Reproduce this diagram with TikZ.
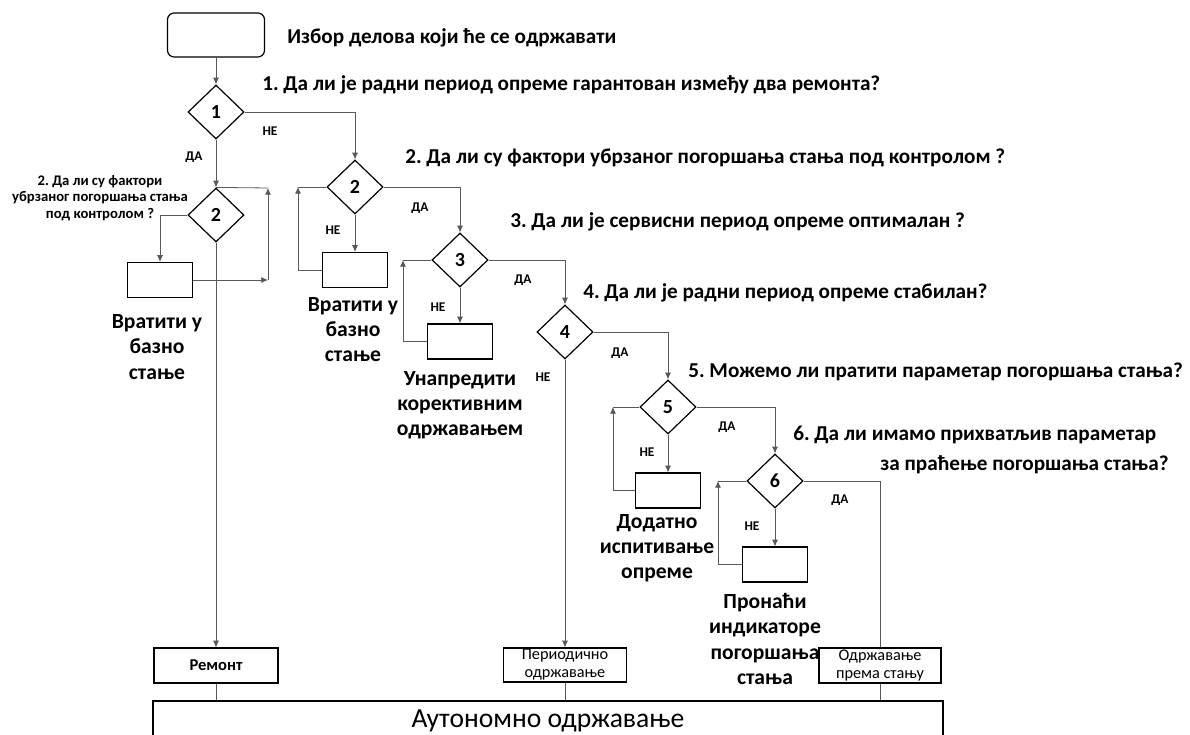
\documentclass[tikz,border=0pt]{standalone}
\usepackage{fontspec}
\setmainfont{Carlito}
\usetikzlibrary{arrows.meta,shapes.geometric}
\frenchspacing
\tikzset{
  dec/.style={diamond,draw=black,line width=0.9pt,minimum width=42pt,minimum height=40.5pt,inner sep=0pt,font=\fontsize{15}{16}\selectfont\bfseries},
  sbox/.style={rectangle,draw=black,line width=0.9pt,minimum width=48.75pt,minimum height=26.25pt,inner sep=0pt},
  obox/.style={rectangle,draw=black,line width=0.9pt,inner sep=0pt,align=center},
  conn/.style={draw=black!65,line width=0.6pt},
  arr/.style={conn,-{Latex[length=5pt,width=4.5pt]}},
  qtext/.style={anchor=west,inner sep=0pt,font=\fontsize{15.9}{17}\selectfont\bfseries},
  lbl/.style={align=center,inner sep=0pt,font=\fontsize{16.2}{18.9}\selectfont\bfseries},
  yn/.style={inner sep=0pt,font=\fontsize{10}{11}\selectfont\bfseries},
}
\begin{document}
\begin{tikzpicture}[x=0.75pt,y=-0.75pt]
\useasboundingbox (0,0) rectangle (1190,735);
\clip (0,0) rectangle (1190,735);
\fill[white] (0,0) rectangle (1190,735);

% start
\node[rectangle,rounded corners=5pt,draw=black,line width=0.9pt,minimum width=72.75pt,minimum height=33pt] (start) at (216,35) {};
\node[qtext] (q0) at (287,38) {Избор делова који ће се одржавати};

% decisions
\node[dec] (d1) at (216,112) {1};
\node[dec] (d2a) at (216,215) {2};
\node[dec] (d2b) at (355,187) {2};
\node[dec] (d3) at (460,260) {3};
\node[dec] (d4) at (565,332) {4};
\node[dec] (d5) at (668,407) {5};
\node[dec] (d6) at (775,481) {6};

% boxes
\node[sbox] (bA) at (160,280) {};
\node[sbox] (bB) at (355,270) {};
\node[sbox] (bC) at (460,341.5) {};
\node[sbox] (bD) at (668,490.5) {};
\node[sbox] (bE) at (775,564.5) {};

\node[obox,minimum width=93pt,minimum height=26.25pt,font=\fontsize{12.4}{13}\selectfont\bfseries] (rem) at (216,665.5) {Ремонт};
\node[obox,minimum width=92.25pt,minimum height=25.5pt,font=\fontsize{12.2}{13.5}\selectfont] (per) at (565,665) {Периодично\\одржавање};
\node[obox,minimum width=91.5pt,minimum height=26.25pt,font=\fontsize{12.2}{13.5}\selectfont] (cbm) at (880,665.5) {Одржавање\\према стању};
\node[obox,minimum width=592.5pt,minimum height=30pt,font=\fontsize{20.7}{22}\selectfont] (big) at (548,721) {Аутономно одржавање};

% questions
\node[qtext] (q1) at (262,85) {1. Да ли је радни период опреме гарантован између два ремонта?};
\node[qtext] (q2) at (405,158) {2. Да ли су фактори убрзаног погоршања стања под контролом ?};
\node[qtext] (q3) at (510,222) {3. Да ли је сервисни период опреме оптималан ?};
\node[qtext] (q4) at (583,293) {4. Да ли је радни период опреме стабилан?};
\node[qtext] (q5) at (688,372) {5. Можемо ли пратити параметар погоршања стања?};
\node[qtext] (q6a) at (793,435) {6. Да ли имамо прихватљив параметар};
\node[qtext] (q6b) at (880,465) {за праћење погоршања стања?};
\node[align=center,inner sep=0pt,font=\fontsize{11}{12.4}\selectfont\bfseries] (q2l) at (100,198) {2. Да ли су фактори\\убрзаног погоршања стања\\под контролом ?};

% box labels
\node[lbl] (lA) at (157,347) {Вратити у\\базно\\стање};
\node[lbl] (lB) at (353,329.5) {Вратити у\\базно\\стање};
\node[lbl] (lC) at (460,405) {Унапредити\\корективним\\одржавањем};
\node[lbl] (lD) at (657,548) {Додатно\\испитивање\\опреме};
\node[lbl] (lE) at (765,639) {Пронаћи\\индикаторе\\погоршања\\стања};

% yes/no labels
\node[yn] (n1) at (270,131) {НЕ};
\node[yn] (y1) at (194,157) {ДА};
\node[yn] (n2) at (333,230) {НЕ};
\node[yn] (y2) at (420,208) {ДА};
\node[yn] (n3) at (438,307) {НЕ};
\node[yn] (y3) at (523,280) {ДА};
\node[yn] (n4) at (543,377) {НЕ};
\node[yn] (y4) at (620,353) {ДА};
\node[yn] (n5) at (647,452) {НЕ};
\node[yn] (y5) at (727,427) {ДА};
\node[yn] (n6) at (752,526) {НЕ};
\node[yn] (y6) at (840,500) {ДА};

% loop corner coordinates
\coordinate (cA1) at (268,280);
\coordinate (cA2) at (268,188);
\coordinate (cB1) at (298,270);
\coordinate (cB2) at (298,187);
\coordinate (cC1) at (403,341.5);
\coordinate (cC2) at (403,260);
\coordinate (cD1) at (613,490.5);
\coordinate (cD2) at (613,407);
\coordinate (cE1) at (718,564.5);
\coordinate (cE2) at (718,481);

% main flow
\draw[arr] (start.south) -- (d1.north);
\draw[arr] (d1.south) -- (d2a.north);
\draw[arr] (d1.east) -| (d2b.north);
\draw[arr] (d2b.east) -| (d3.north);
\draw[arr] (d3.east) -| (d4.north);
\draw[arr] (d4.east) -| (d5.north);
\draw[arr] (d5.east) -| (d6.north);
\draw[conn] (d6.east) -| (cbm.north);
\draw[arr] (d2a.south) -- (rem.north);
\draw[arr] (d4.south) -- (per.north);

% NO branches
\draw[arr] (d2a.west) -| (bA.north);
\draw[arr] (d2b.south) -- (bB.north);
\draw[arr] (d3.south) -- (bC.north);
\draw[arr] (d5.south) -- (bD.north);
\draw[arr] (d6.south) -- (bE.north);

% loops
\draw[arr] (bA.east) -- (cA1);
\draw[arr] (cA1) -- (cA2);
\draw[conn] (d2a.north) -- (cA2);
\draw[arr] (bB.west) -- (cB1) -- (cB2);
\draw[conn] (cB2) -- (d2b.west);
\draw[arr] (bC.west) -- (cC1) -- (cC2);
\draw[conn] (cC2) -- (d3.west);
\draw[arr] (bD.west) -- (cD1) -- (cD2);
\draw[conn] (cD2) -- (d5.west);
\draw[arr] (bE.west) -- (cE1) -- (cE2);
\draw[conn] (cE2) -- (d6.west);

% to autonomous maintenance
\draw[conn] (rem.south) -- (rem.south |- big.north);
\draw[conn] (per.south) -- (per.south |- big.north);
\draw[conn] (cbm.south) -- (cbm.south |- big.north);
\end{tikzpicture}
\end{document}
